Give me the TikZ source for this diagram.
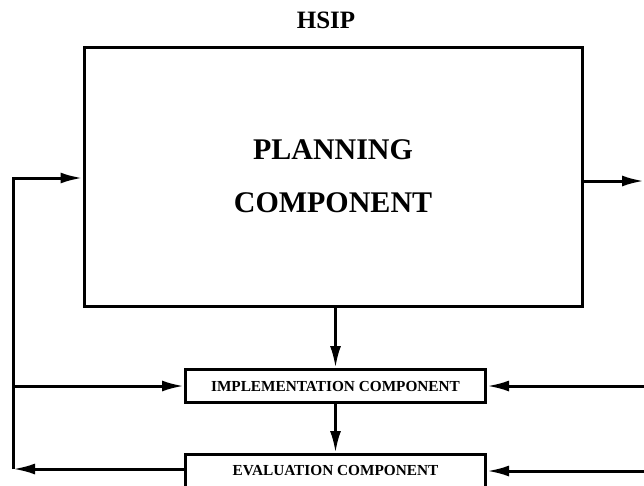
\documentclass[tikz,border=0pt]{standalone}
\usepackage{fontspec}
\setmainfont{Liberation Serif}
\usetikzlibrary{arrows.meta}

\tikzstyle{block}=[draw,line width=3pt,inner sep=0pt,font=\bfseries]
\tikzstyle{small block}=[block,minimum width=300pt,minimum height=33pt,font=\fontsize{15.3}{18}\selectfont\bfseries]
\tikzstyle{flow}=[draw,line width=3pt,-{Latex[length=22pt,width=11pt]}]

\begin{document}
\begin{tikzpicture}[x=1pt,y=-1pt]
			\useasboundingbox (0,0) rectangle (644,485);
			\clip (0,0) rectangle (644,485);
			\node[font=\fontsize{25}{30}\selectfont\bfseries] (title) at (326,20) {HSIP};
			\node[block,minimum width=498pt,minimum height=259pt,align=center,
			      font=\fontsize{30}{53}\selectfont\bfseries] (plan) at (333,176.5) {PLANNING\\COMPONENT};
			\node[small block] (impl) at (335.5,386) {IMPLEMENTATION COMPONENT};
			\node[small block] (eval) at (335.5,471) {EVALUATION COMPONENT};
			% Ends of the feedback loop and the right edge
			\coordinate (lt) at (13,178);
			\coordinate (lb) at (13,469);
			\coordinate (out) at (644,181);
			\coordinate (redge) at (644,0);
			% Planning output and the flow downwards
			\path[flow] (out -| plan.east) -- (out);
			\path[flow] (plan.south -| impl.north) -- (impl.north);
			\path[flow] (impl.south) -- (eval.north);
			% Feedback on the left
			\path[flow] (eval.west |- lb) -- (lb);
			\path[flow] (lb) -- (lt) -- (lt -| plan.west);
			\path[flow] (impl.west -| lt) -- (impl.west);
			% Inputs from the right
			\foreach \dest in {impl, eval}
			\path[flow] (\dest.east -| redge) -- (\dest.east);
\end{tikzpicture}
\end{document}
